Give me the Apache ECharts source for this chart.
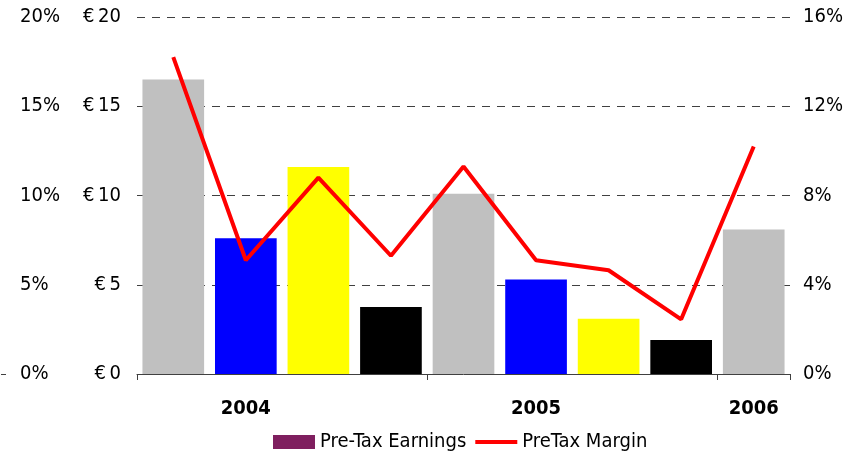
<!DOCTYPE html>
<html>
<head>
<meta charset="utf-8">
<script src="https://cdn.jsdelivr.net/npm/echarts@6/dist/echarts.min.js"></script>
<style>
  html, body { margin: 0; padding: 0; background: #fff; }
  #chart { width: 850px; height: 453px; }
</style>
</head>
<body>
<div id="chart"></div>
<script>
// periods on the x axis (only some carry a year label)
const categories = ['P1', 'P2', 'P3', 'P4', 'P5', 'P6', 'P7', 'P8', 'P9'];
const yearLabels = ['', '2004', '', '', '', '2005', '', '', '2006'];
// pre-tax earnings in €
const earnings = [16.5, 7.6, 11.6, 3.75, 10.1, 5.3, 3.1, 1.9, 8.1];
const barColors = ['#C0C0C0', '#0000FF', '#FFFF00', '#000000', '#C0C0C0', '#0000FF', '#FFFF00', '#000000', '#C0C0C0'];
// pre-tax margin in %
const margin = [14.2, 5.1, 8.8, 5.3, 9.3, 5.1, 4.65, 2.45, 10.2];

const FONT = '"DejaVu Sans Condensed", "DejaVu Sans", sans-serif';
const chart = echarts.init(document.getElementById('chart'));

const option = {
  animation: false,
  textStyle: { fontFamily: FONT, color: '#000' },
  grid: { left: 137, right: 60, top: 17, bottom: 79 },
  legend: {
    top: 427,
    left: 268,
    itemWidth: 42,
    itemHeight: 14,
    itemGap: 9,
    textStyle: { fontFamily: FONT, fontSize: 20, color: '#000' },
    data: [
      { name: 'Pre-Tax Earnings', icon: 'rect' },
      { name: 'PreTax Margin', icon: 'path://M0,0 L42,0 L42,4 L0,4 Z' }
    ]
  },
  xAxis: [{
    type: 'category',
    data: categories,
    axisLine: { lineStyle: { color: '#404040', width: 1 } },
    axisTick: {
      show: true,
      length: 6,
      interval: 3,
      lineStyle: { color: '#404040' }
    },
    axisLabel: {
      interval: 0,
      margin: 25,
      fontFamily: FONT,
      fontSize: 20,
      fontWeight: 'bold',
      color: '#000',
      formatter: (v, i) => yearLabels[i]
    }
  }],
  yAxis: [
    {
      type: 'value',
      position: 'left',
      min: 0, max: 20, interval: 5,
      axisLine: { show: false },
      axisTick: { show: true, inside: true, length: 5, lineStyle: { color: '#404040' } },
      axisLabel: { margin: 16, fontFamily: FONT, fontSize: 20, color: '#000', formatter: '€\u2009{value}' },
      splitLine: { show: true, lineStyle: { color: '#404040', type: [8, 7], width: 1 } }
    },
    {
      type: 'value',
      position: 'right',
      min: 0, max: 16, interval: 4,
      axisLine: { show: false },
      axisTick: { show: false },
      axisLabel: { margin: 13, fontFamily: FONT, fontSize: 20, color: '#000', formatter: '{value}%' },
      splitLine: { show: false }
    },
    {
      type: 'value',
      position: 'left',
      offset: 131,
      min: 0, max: 20, interval: 5,
      axisLine: { show: false },
      axisTick: { show: true, length: 5, customValues: [0], lineStyle: { color: '#404040' } },
      axisLabel: { inside: true, margin: 14, fontFamily: FONT, fontSize: 20, color: '#000', formatter: '{value}%' },
      splitLine: { show: false }
    }
  ],
  series: [
    {
      name: 'Pre-Tax Earnings',
      type: 'bar',
      yAxisIndex: 0,
      barCategoryGap: '15%',
      itemStyle: { color: '#7F1F5F' },
      data: earnings.map((v, i) => ({ value: v, itemStyle: { color: barColors[i] } }))
    },
    {
      name: 'PreTax Margin',
      type: 'line',
      yAxisIndex: 1,
      symbol: 'none',
      lineStyle: { color: '#FF0000', width: 4 },
      itemStyle: { color: '#FF0000' },
      data: margin
    }
  ]
};

chart.setOption(option);
</script>
</body>
</html>
